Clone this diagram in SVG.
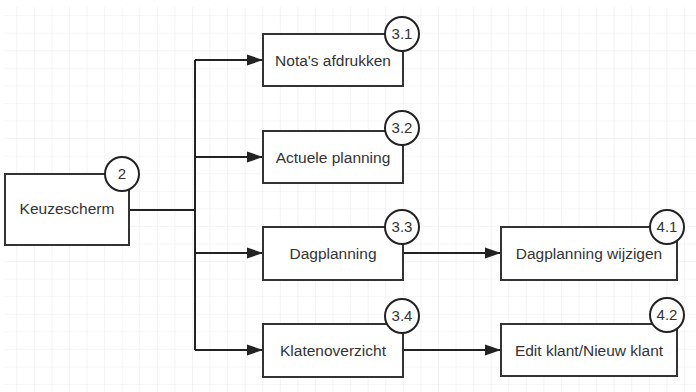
<svg xmlns="http://www.w3.org/2000/svg" width="696" height="392" viewBox="0 0 696 392">
  <style>
    .box { fill: #ffffff; stroke: #333333; stroke-width: 2; }
    .badge { fill: #ffffff; stroke: #222222; stroke-width: 2; }
    .lbl { font-family: "Liberation Sans", Arial, sans-serif; font-size: 15.5px; fill: #333333; text-anchor: middle; }
    .num { font-family: "Liberation Sans", Arial, sans-serif; font-size: 15px; fill: #333333; text-anchor: middle; }
    .conn { fill: none; stroke: #222222; stroke-width: 2; }
  </style>
  <defs>
    <pattern id="grid" patternUnits="userSpaceOnUse" x="-0.3" y="-1.5" width="17.57" height="17.57">
      <path d="M17.57 0 V17.57 M0 17.57 H17.57" fill="none" stroke="#ebebeb" stroke-width="1.2"/>
    </pattern>
    <marker id="arrow" markerUnits="userSpaceOnUse" markerWidth="16" markerHeight="12" refX="16" refY="6" orient="auto">
      <path d="M0,0.5 L16,6 L0,11.5 z" fill="#222222"/>
    </marker>
  </defs>
  <rect x="0" y="0" width="696" height="392" fill="#ffffff"/>
  <rect x="4" y="7" width="692" height="385" fill="url(#grid)"/>

  <g id="connectors">
    <path class="conn" d="M129,210 H195"/>
    <path class="conn" d="M195,60 V350"/>
    <path class="conn" d="M195,60 H263" marker-end="url(#arrow)"/>
    <path class="conn" d="M195,157 H263" marker-end="url(#arrow)"/>
    <path class="conn" d="M195,253 H263" marker-end="url(#arrow)"/>
    <path class="conn" d="M195,350 H263" marker-end="url(#arrow)"/>
    <path class="conn" d="M403,253 H501" marker-end="url(#arrow)"/>
    <path class="conn" d="M403,350 H501" marker-end="url(#arrow)"/>
  </g>

  <g id="node-2">
    <rect class="box" x="5" y="174" width="124" height="71"/>
    <text class="lbl" x="67" y="214">Keuzescherm</text>
    <circle class="badge" cx="122" cy="174" r="17"/>
    <text class="num" x="122" y="179">2</text>
  </g>

  <g id="node-3-1">
    <rect class="box" x="263" y="34" width="140" height="52"/>
    <text class="lbl" x="333" y="65.5">Nota's afdrukken</text>
    <circle class="badge" cx="402" cy="34" r="17"/>
    <text class="num" x="402" y="39">3.1</text>
  </g>

  <g id="node-3-2">
    <rect class="box" x="263" y="131" width="140" height="52"/>
    <text class="lbl" x="333" y="162.5">Actuele planning</text>
    <circle class="badge" cx="402" cy="128" r="17"/>
    <text class="num" x="402" y="133">3.2</text>
  </g>

  <g id="node-3-3">
    <rect class="box" x="263" y="227" width="140" height="53"/>
    <text class="lbl" x="333" y="258.5">Dagplanning</text>
    <circle class="badge" cx="402" cy="227" r="17"/>
    <text class="num" x="402" y="232">3.3</text>
  </g>

  <g id="node-3-4">
    <rect class="box" x="263" y="324" width="140" height="53"/>
    <text class="lbl" x="333" y="355.5">Klatenoverzicht</text>
    <circle class="badge" cx="402" cy="316" r="17"/>
    <text class="num" x="402" y="321">3.4</text>
  </g>

  <g id="node-4-1">
    <rect class="box" x="501" y="227" width="176" height="53"/>
    <text class="lbl" x="589" y="258.5">Dagplanning wijzigen</text>
    <circle class="badge" cx="667" cy="227" r="17"/>
    <text class="num" x="667" y="232">4.1</text>
  </g>

  <g id="node-4-2">
    <rect class="box" x="501" y="324" width="176" height="52"/>
    <text class="lbl" x="589" y="355.5">Edit klant/Nieuw klant</text>
    <circle class="badge" cx="667" cy="315" r="17"/>
    <text class="num" x="667" y="320">4.2</text>
  </g>
</svg>
